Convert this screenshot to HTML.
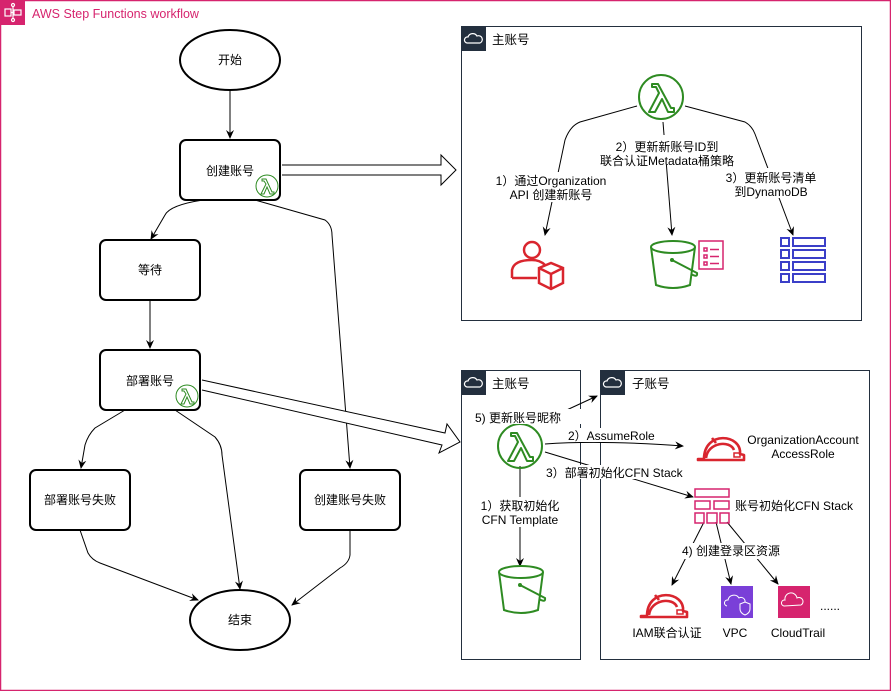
<!DOCTYPE html>
<html><head><meta charset="utf-8"><style>
html,body{margin:0;padding:0;background:#fff}
svg{display:block}
text{font-family:"Liberation Sans","Noto Sans CJK SC",sans-serif;font-size:12px;fill:#000}
</style></head><body>
<svg width="891" height="691" viewBox="0 0 891 691" xmlns="http://www.w3.org/2000/svg">
<defs>
<marker id="a" markerWidth="10" markerHeight="10" refX="8" refY="5" orient="auto" markerUnits="userSpaceOnUse"><path d="M0,1 L9,5 L0,9 L3,5 Z" fill="#000"/></marker>
<g id="lam"><circle r="22" fill="none" stroke="#2e8b22" stroke-width="2"/><path d="M-9,-13 L-3,-13 L10,11 L13,11 L13,15 L7,15 L1,2 L-6,15 L-12,15 L-2,-4 L-5,-10 L-9,-10 Z" fill="none" stroke="#2e8b22" stroke-width="2" stroke-linejoin="round"/></g>
<g id="slam"><circle r="11" fill="#fff" stroke="#2e8b22" stroke-width="1"/><path d="M-5,-7 L-1,-7 L5,6 L7,6 L7,8 L3,8 L0,1 L-3,8 L-6,8 L-1,-2 L-3,-5 L-5,-5 Z" fill="none" stroke="#2e8b22" stroke-width="1"/></g>
<g id="cloud"><rect width="25" height="25" fill="#232f3e"/><path d="M6,17 a3,3 0 0 1 1,-6 a5,5 0 0 1 9,-1 a3.5,3.5 0 0 1 3,7 Z" fill="none" stroke="#fff" stroke-width="1.2"/></g>
<g id="helm"><path d="M-22,13 L-16,13 C-16,-16 22,-12 20,8 L24,9 L24,14 L-22,14 Z M-14,12 C-12,-4 10,-6 14,4 M-8,-8 L-4,-3" fill="none" stroke="#d9252e" stroke-width="2.6" stroke-linejoin="round"/><rect x="14" y="7" width="6" height="4" fill="none" stroke="#d9252e" stroke-width="1.5"/></g>
<g id="bucket"><ellipse cx="0" cy="-18" rx="22" ry="6" fill="none" stroke="#2e8b22" stroke-width="2"/><path d="M-22,-18 L-17,20 Q0,26 17,20 L22,-18" fill="none" stroke="#2e8b22" stroke-width="2"/><path d="M-1,-5 L24,8 Q25,13 18,9" fill="none" stroke="#2e8b22" stroke-width="2"/><circle cx="-1" cy="-5" r="2" fill="#2e8b22"/></g>
</defs>
<rect x="0.5" y="0.5" width="890" height="690" fill="#fff" stroke="#d6246e" stroke-width="1.5"/>
<rect x="0" y="0" width="25" height="25" fill="#d6246e"/>
<g stroke="#fff" stroke-width="1.2" fill="none"><rect x="5" y="9" width="6" height="7"/><rect x="14" y="10" width="7" height="5"/><circle cx="13" cy="5" r="1.5"/><circle cx="13" cy="20" r="1.5"/><path d="M11,12.5 L14,12.5 M13,6.5 V18.5"/></g>
<text x="32" y="18" style="fill:#d6246e;font-size:12.5px">AWS Step Functions workflow</text>

<g fill="#fff" stroke="#000" stroke-width="2">
<ellipse cx="230" cy="60" rx="50" ry="30"/>
<rect x="180" y="140" width="100" height="60" rx="6"/>
<rect x="100" y="240" width="100" height="60" rx="6"/>
<rect x="100" y="350" width="100" height="60" rx="6"/>
<rect x="30" y="470" width="100" height="60" rx="6"/>
<rect x="300" y="470" width="100" height="60" rx="6"/>
<ellipse cx="240" cy="620" rx="50" ry="30"/>
</g>
<text x="230" y="64" text-anchor="middle">开始</text>
<text x="230" y="175" text-anchor="middle">创建账号</text>
<text x="150" y="274" text-anchor="middle">等待</text>
<text x="150" y="385" text-anchor="middle">部署账号</text>
<text x="80" y="504" text-anchor="middle">部署账号失败</text>
<text x="350" y="504" text-anchor="middle">创建账号失败</text>
<text x="240" y="624" text-anchor="middle">结束</text>
<use href="#slam" x="267" y="186"/>
<use href="#slam" x="187" y="396"/>
<g fill="none" stroke="#000" stroke-width="1" marker-end="url(#a)">
<path d="M230,90 V138"/>
<path d="M150,300 V348"/>
<path d="M203,200 Q170,205 165,215 L151,239"/>
<path d="M255,200 L325,220 Q332,225 332,235 L350,468"/>
<path d="M125,410 L95,428 Q88,435 85,445 L81,468"/>
<path d="M175,410 L215,437 Q222,445 222,455 L240,589"/>
<path d="M80,530 L88,553 Q92,560 100,563 L198,600"/>
<path d="M350,530 V555 Q349,563 340,568 L292,605"/>
</g>
<path d="M282,165 H441 V155 L456,170 L441,185 V175 H282" fill="#fff" stroke="#000" stroke-width="1"/>
<path d="M202,380 L445,433 L447,424 L460,442 L439,453 L442,445 L202,390" fill="#fff" stroke="#000" stroke-width="1"/>

<rect x="461.5" y="26.5" width="400" height="294" fill="none" stroke="#232f3e" stroke-width="1"/>
<use href="#cloud" x="461" y="26"/>
<text x="492" y="44" style="font-size:12.5px">主账号</text>
<g fill="none" stroke="#000" stroke-width="1">
<path d="M637,106 L580,122 Q570,126 565,140 L545,235" marker-end="url(#a)"/>
<path d="M663,122 L672,235" marker-end="url(#a)"/>
<path d="M685,106 L745,122 Q752,126 755,134 L793,235" marker-end="url(#a)"/>
</g>
<use href="#lam" x="661" y="97"/>
<g fill="#fff"><rect x="600" y="135" width="135" height="30"/><rect x="490" y="172" width="125" height="30"/><rect x="725" y="168" width="95" height="30"/></g>
<text x="667" y="151" text-anchor="middle">2）更新新账号ID到</text>
<text x="667" y="165" text-anchor="middle">联合认证Metadata桶策略</text>
<text x="551" y="185" text-anchor="middle">1）通过Organization</text>
<text x="551" y="199" text-anchor="middle">API 创建新账号</text>
<text x="771" y="182" text-anchor="middle">3）更新账号清单</text>
<text x="771" y="196" text-anchor="middle">到DynamoDB</text>
<g fill="none" stroke="#d9252e" stroke-width="2.5"><circle cx="532" cy="250" r="8"/><path d="M512,278 V270 Q514,260 532,260 Q540,260 545,265 M512,278 H537"/><path d="M539,268 L551,263 L563,268 V283 L551,289 L539,283 Z M539,268 L551,274 L563,268 M551,274 V289"/></g>
<use href="#bucket" x="673" y="265"/>
<g fill="none" stroke="#d6246e" stroke-width="1.5"><rect x="699" y="241" width="24" height="28"/><path d="M704,248 h3 v3 h-3z M710,249.5 h9 M704,255 h3 v3 h-3z M710,256.5 h9 M704,262 h3 v3 h-3z M710,263.5 h9"/></g>
<g fill="none" stroke="#3b3fc8" stroke-width="2"><rect x="781" y="238" width="8" height="8"/><rect x="793" y="238" width="32" height="8"/><rect x="781" y="250" width="8" height="8"/><rect x="793" y="250" width="32" height="8"/><rect x="781" y="262" width="8" height="8"/><rect x="793" y="262" width="32" height="8"/><rect x="781" y="274" width="8" height="8"/><rect x="793" y="274" width="32" height="8"/></g>

<rect x="461.5" y="370.5" width="119" height="289" fill="none" stroke="#232f3e" stroke-width="1"/>
<rect x="600.5" y="370.5" width="269" height="289" fill="none" stroke="#232f3e" stroke-width="1"/>
<use href="#cloud" x="461" y="370"/>
<use href="#cloud" x="600" y="370"/>
<text x="492" y="388" style="font-size:12.5px">主账号</text>
<text x="632" y="388" style="font-size:12.5px">子账号</text>
<g fill="none" stroke="#000" stroke-width="1">
<path d="M545,444 Q600,440 683,446" marker-end="url(#a)"/>
<path d="M545,452 L693,497" marker-end="url(#a)"/>
<path d="M545,420 L597,396" marker-end="url(#a)"/>
<path d="M520,466 V566" marker-end="url(#a)"/>
<path d="M704,522 L672,585" marker-end="url(#a)"/>
<path d="M716,522 L731,584" marker-end="url(#a)"/>
<path d="M727,522 L778,584" marker-end="url(#a)"/>
</g>
<use href="#lam" x="520" y="446"/>
<g fill="#fff"><rect x="470" y="497" width="100" height="30"/><rect x="676" y="543" width="110" height="16"/><rect x="514" y="409" width="80" height="15"/><rect x="565" y="428" width="90" height="14"/><rect x="545" y="465" width="140" height="14"/></g>
<text x="518" y="422" text-anchor="middle">5) 更新账号昵称</text>
<text x="568" y="440">2）AssumeRole</text>
<text x="546" y="477">3）部署初始化CFN Stack</text>
<text x="520" y="510" text-anchor="middle">1）获取初始化</text>
<text x="520" y="524" text-anchor="middle">CFN Template</text>
<use href="#bucket" x="521" y="590"/>
<use href="#helm" x="720" y="446"/>
<text x="803" y="444" text-anchor="middle">OrganizationAccount</text>
<text x="803" y="458" text-anchor="middle">AccessRole</text>
<g fill="none" stroke="#d6246e" stroke-width="1.5"><rect x="695" y="489" width="34" height="8"/><rect x="695" y="501" width="15" height="8"/><rect x="714" y="501" width="15" height="8"/><rect x="695" y="513" width="9" height="10"/><rect x="707" y="513" width="10" height="10"/><rect x="720" y="513" width="9" height="10"/></g>
<text x="735" y="510">账号初始化CFN Stack</text>
<text x="682" y="555">4) 创建登录区资源</text>
<use href="#helm" x="663" y="603"/>
<rect x="721" y="586" width="32" height="32" fill="#7a3fd8"/>
<path d="M727,606 a3,3 0 0 1 1,-6 a6,6 0 0 1 11,-2 a4,4 0 0 1 6,4" fill="none" stroke="#fff" stroke-width="1"/>
<path d="M740,604 l5,-2 l5,2 v5 q0,4 -5,6 q-5,-2 -5,-6 z" fill="none" stroke="#fff" stroke-width="1"/>
<rect x="778" y="586" width="32" height="32" fill="#d6246e"/>
<path d="M784,606 a3,3 0 0 1 1,-6 a6,6 0 0 1 12,-2 a4,4 0 0 1 4,7 Z" fill="none" stroke="#fff" stroke-width="1"/>
<text x="820" y="610">......</text>
<text x="667" y="637" text-anchor="middle">IAM联合认证</text>
<text x="735" y="637" text-anchor="middle">VPC</text>
<text x="798" y="637" text-anchor="middle">CloudTrail</text>
</svg>
</body></html>
